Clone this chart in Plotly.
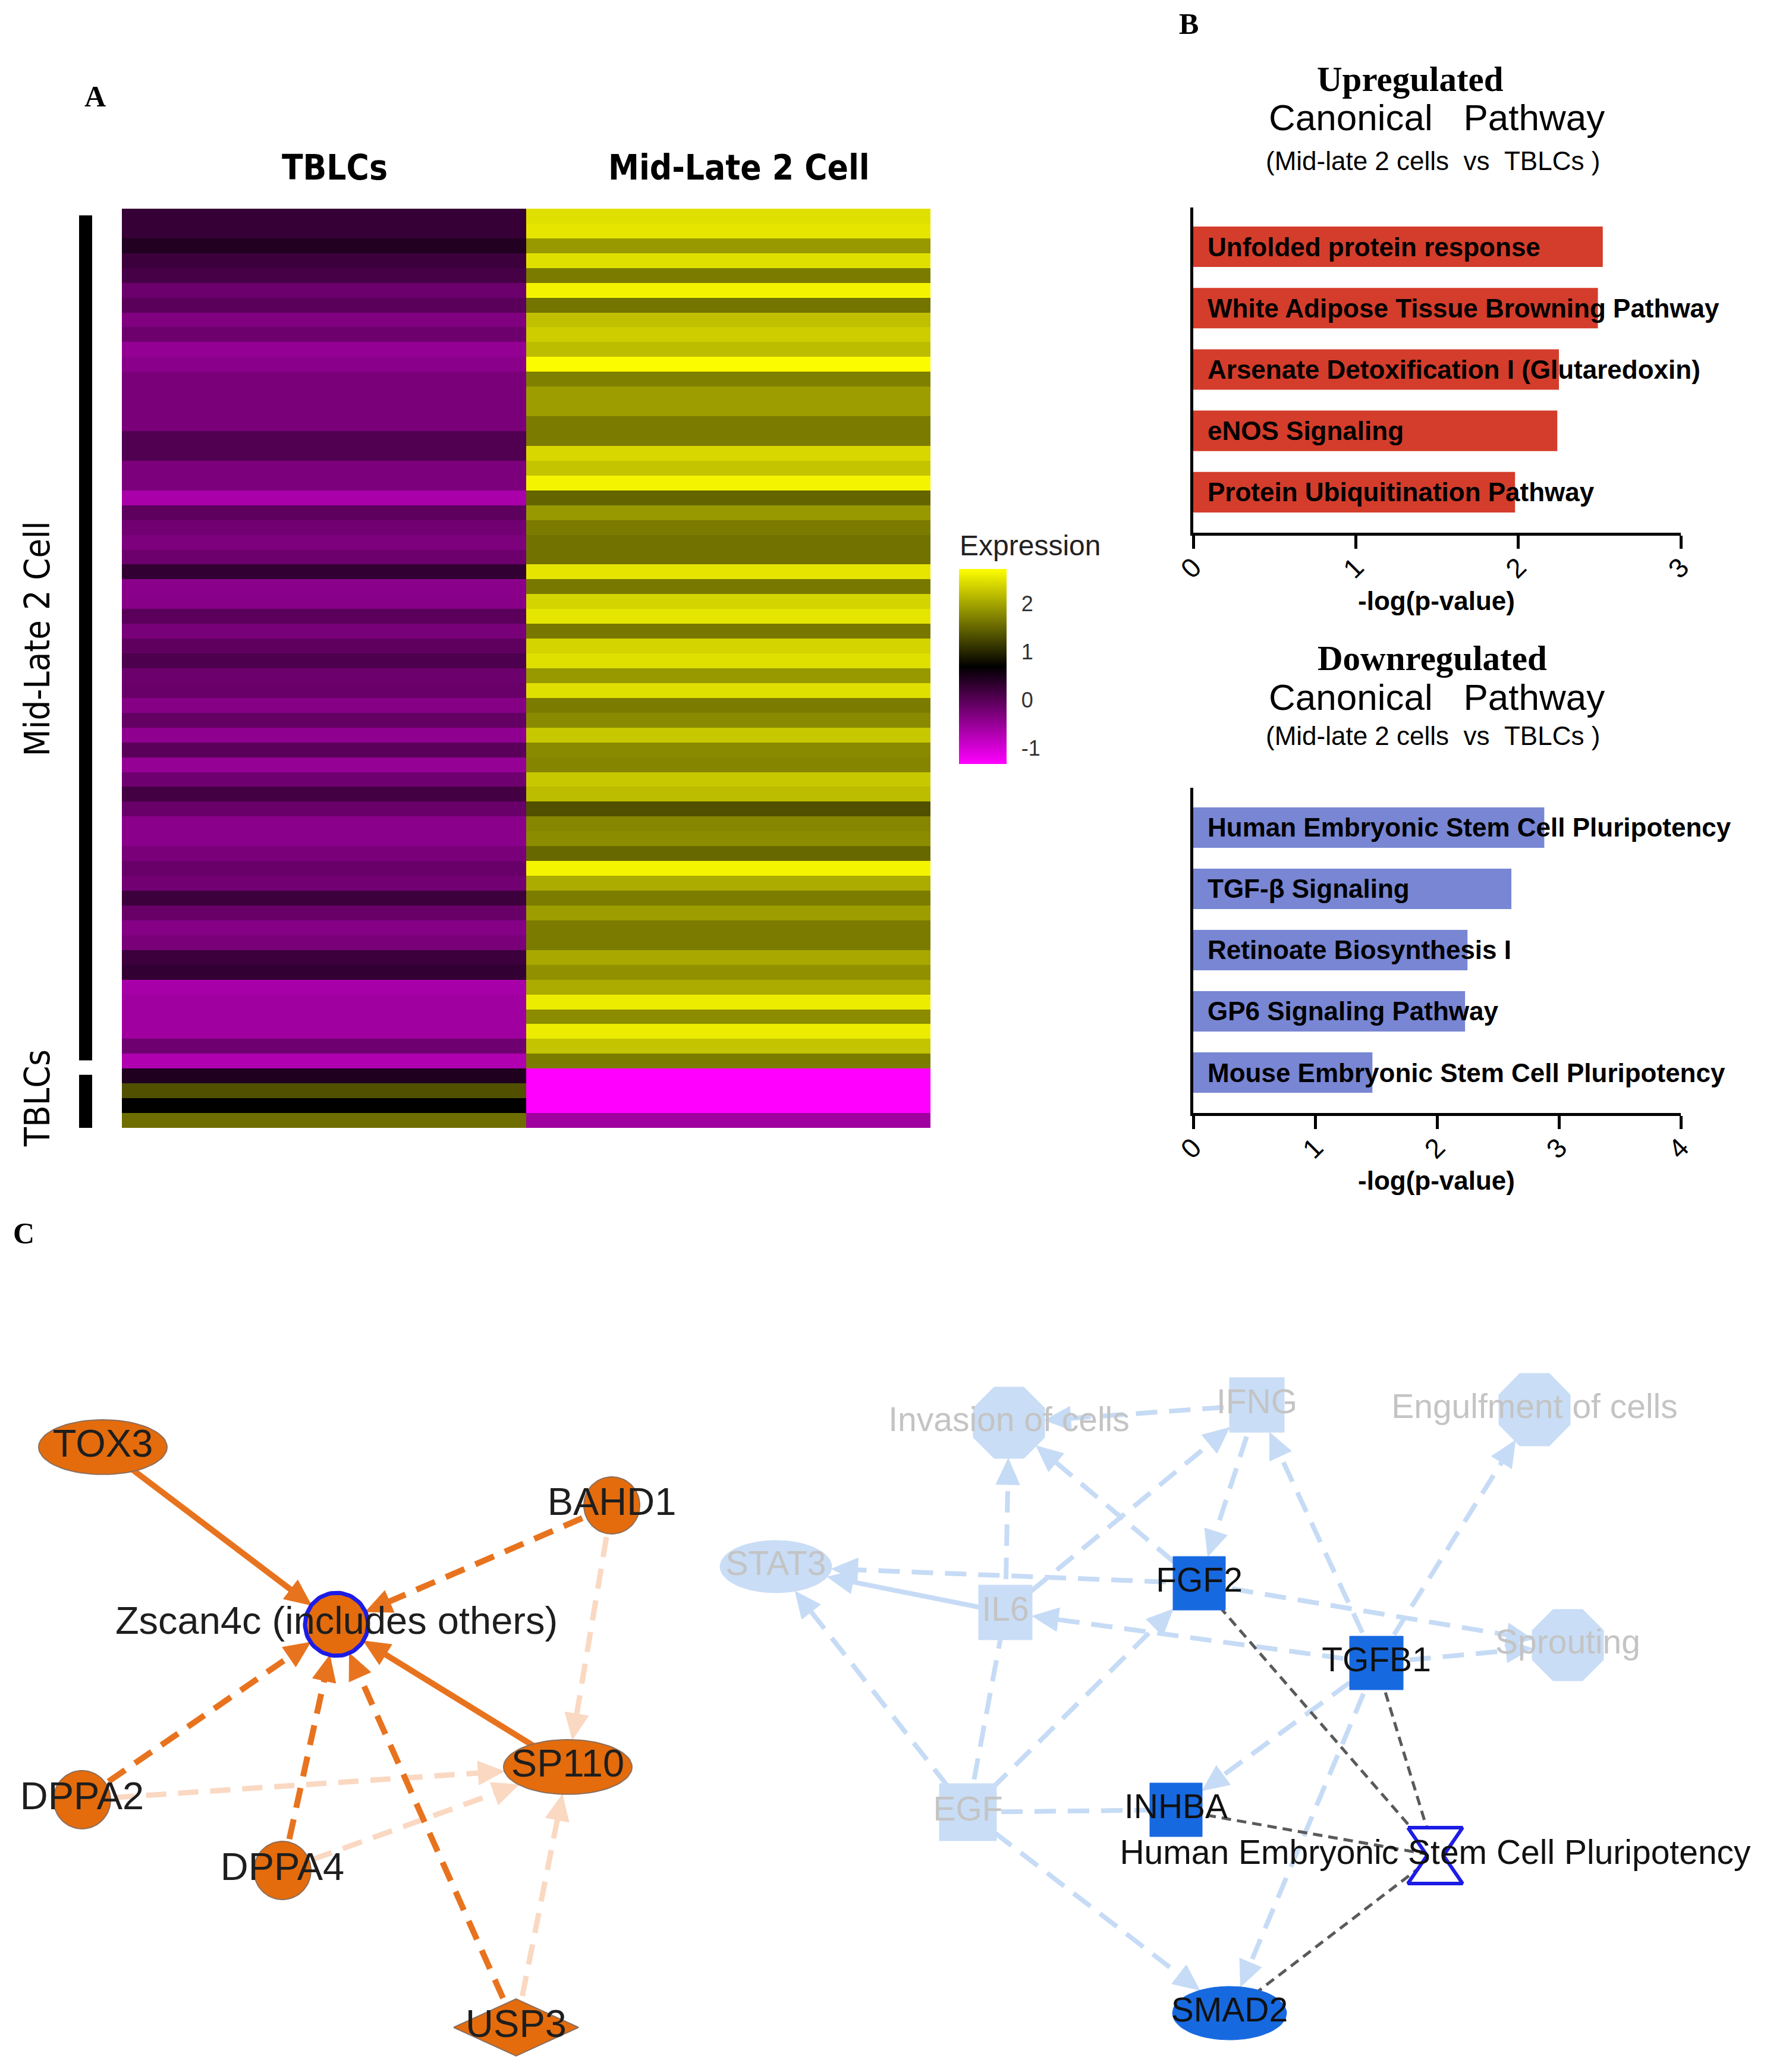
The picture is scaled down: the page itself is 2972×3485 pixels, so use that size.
import numpy as np
import plotly.graph_objects as go

W, H = 2972, 3485
SERIF = "Liberation Serif, Times New Roman, serif"
SANS = "Liberation Sans, Arial, sans-serif"
NARROW = "Liberation Sans Narrow, DejaVu Sans Condensed, Arial Narrow, sans-serif"

# ------------------------------------------------------------------ data
# Panel A : heat map (rows top -> bottom)
heat_columns = ["TBLCs", "Mid-Late 2 Cell"]
tblc_expr = [0.27, 0.27, 0.43, 0.22, 0.14, -0.16, -0.02, -0.32, -0.18, -0.48,
             -0.40, -0.27, -0.27, -0.27, -0.27, 0.05, 0.05, -0.29, -0.29, -0.65,
             -0.05, -0.21, -0.30, -0.18, 0.29, -0.41, -0.38, -0.02, -0.26, -0.06,
             0.08, -0.16, -0.14, -0.37, -0.10, -0.45, -0.02, -0.49, -0.19, 0.16,
             -0.14, -0.41, -0.41, -0.27, -0.14, -0.22, 0.22, -0.13, -0.37, -0.27,
             0.22, 0.29, -0.64, -0.57, -0.57, -0.57, -0.19, -0.70, 0.45, 1.33,
             0.70, 1.57]
midlate_expr = [2.47, 2.51, 1.90, 2.47, 1.67, 2.63, 1.62, 2.22, 2.32, 2.19,
                2.70, 1.71, 1.94, 1.94, 1.67, 1.67, 2.41, 2.25, 2.63, 1.49,
                1.90, 1.67, 1.60, 1.60, 2.51, 1.65, 2.38, 2.51, 1.65, 2.38,
                2.47, 1.90, 2.47, 1.67, 1.79, 2.28, 1.79, 1.75, 2.28, 2.19,
                1.33, 1.76, 1.81, 1.52, 2.63, 2.05, 1.68, 1.94, 1.67, 1.67,
                2.03, 1.84, 2.05, 2.57, 1.81, 2.57, 2.25, 1.67, -1.33, -1.33,
                -1.33, -0.57]
gene_groups = ["Mid-Late 2 Cell", "TBLCs"]
gene_group_sizes = [58, 4]
cbar_ticks = [-1, 0, 1, 2]
cbar_ticktext = ["-1", "0", "1", "2"]

# Panel B : canonical pathways
up_pathways = ["Unfolded protein response",
               "White Adipose Tissue Browning Pathway",
               "Arsenate Detoxification I (Glutaredoxin)",
               "eNOS Signaling",
               "Protein Ubiquitination Pathway"]
up_logp = [2.52, 2.49, 2.25, 2.24, 1.98]
up_ticks = [0, 1, 2, 3]

down_pathways = ["Human Embryonic Stem Cell Pluripotency",
                 "TGF-β Signaling",
                 "Retinoate Biosynthesis I",
                 "GP6 Signaling Pathway",
                 "Mouse Embryonic Stem Cell Pluripotency"]
down_logp = [2.88, 2.61, 2.25, 2.23, 1.47]
down_ticks = [0, 1, 2, 3, 4]

# Panel C : networks (node layout in figure pixel units)
left_names = ["TOX3", "Zscan4c (includes others)", "BAHD1", "SP110", "DPPA2", "DPPA4", "USP3"]
left_x = [173, 566, 1029, 955, 138, 475, 868]
left_y = [2434, 2732, 2532, 2972, 3027, 3146, 3410]
left_w = [216, 106, 94, 216, 96, 96, 210]
left_h = [92, 106, 96, 92, 98, 98, 96]
left_shape = ["ellipse", "ellipse", "ellipse", "ellipse", "ellipse", "ellipse", "diamond"]
left_src = ["TOX3", "BAHD1", "DPPA2", "DPPA4", "USP3", "SP110",
            "BAHD1", "DPPA2", "DPPA4", "USP3"]
left_dst = ["Zscan4c (includes others)"] * 6 + ["SP110"] * 4
left_style = ["orange_solid", "orange_dash", "orange_dash", "orange_dash", "orange_dash", "orange_solid",
              "peach_dash", "peach_dash", "peach_dash", "peach_dash"]

right_names = ["Invasion of cells", "IFNG", "Engulfment of cells", "STAT3", "IL6", "FGF2",
               "Sprouting", "TGFB1", "EGF", "INHBA", "Human Embryonic Stem Cell Pluripotency", "SMAD2"]
right_x = [1697, 2114, 2581, 1305, 1691, 2017, 2637, 2315, 1628, 1978, 2414, 2068]
right_y = [2393, 2363, 2371, 2635, 2712, 2663, 2767, 2797, 3048, 3044, 3121, 3386]
right_w = [120, 92, 120, 188, 90, 88, 120, 90, 96, 88, 92, 192]
right_h = [120, 92, 122, 88, 92, 90, 120, 90, 96, 90, 94, 90]
right_shape = ["octagon", "square", "octagon", "ellipse", "square", "square",
               "octagon", "square", "square", "square", "hourglass", "ellipse"]
right_state = ["faded", "faded", "faded", "faded", "faded", "active",
               "faded", "active", "faded", "active", "pathway", "active"]
HESC = "Human Embryonic Stem Cell Pluripotency"
right_src = ["IFNG", "IL6", "FGF2", "IL6", "IFNG", "TGFB1", "TGFB1", "FGF2", "IL6", "EGF",
             "TGFB1", "FGF2", "TGFB1", "EGF", "EGF", "TGFB1", "EGF", "EGF", "TGFB1",
             "FGF2", "TGFB1", "INHBA", "SMAD2"]
right_dst = ["Invasion of cells", "Invasion of cells", "Invasion of cells", "IFNG", "FGF2", "IFNG",
             "Engulfment of cells", "STAT3", "STAT3", "STAT3", "IL6", "Sprouting", "Sprouting",
             "IL6", "FGF2", "INHBA", "INHBA", "SMAD2", "SMAD2",
             HESC, HESC, HESC, HESC]
right_style = ["blue_dash", "blue_dash", "blue_dash", "blue_dash", "blue_dash", "blue_dash",
               "blue_dash", "blue_dash", "blue_solid", "blue_dash", "blue_dash", "blue_dash", "blue_dash",
               "blue_line", "blue_dash", "blue_dash", "blue_line", "blue_dash", "blue_dash",
               "grey_dash", "grey_dash", "grey_dash", "grey_dash"]

# ------------------------------------------------------------------ helpers
def fx(p):
    return p / W


def fy(p):
    return 1 - p / H


EXPR_MIN, EXPR_MAX = -1.33, 2.72
CB_TOP, CB_BOT = 957, 1285

fig = go.Figure()

# ------------------------------------------------------------------ Panel A
z = np.column_stack([tblc_expr, midlate_expr])
n_rows = len(tblc_expr)
fig.add_trace(go.Heatmap(
    z=z, x=list(range(len(heat_columns))), y=list(range(n_rows)),
    zmin=EXPR_MIN, zmax=EXPR_MAX,
    colorscale=[[0, "#ff00ff"], [0.5, "#000000"], [1, "#ffff00"]],
    xaxis="x", yaxis="y", hoverinfo="skip",
    colorbar=dict(x=fx(1613), xanchor="left", y=fy((CB_TOP + CB_BOT) / 2), yanchor="middle",
                  len=CB_BOT - CB_TOP, lenmode="pixels", thickness=80, thicknessmode="pixels",
                  outlinewidth=0, xpad=0, ypad=0, tickvals=cbar_ticks, ticktext=cbar_ticktext,
                  ticks="outside", ticklen=18, tickcolor="rgba(0,0,0,0)",
                  tickfont=dict(family=SANS, size=36, color="#333333")),
))
# inner colorbar tick marks
for v in cbar_ticks:
    yp = CB_TOP + (EXPR_MAX - v) / (EXPR_MAX - EXPR_MIN) * (CB_BOT - CB_TOP)
    for xa, xb in ((1613, 1627), (1679, 1693)):
        fig.add_shape(type="line", xref="paper", yref="paper", x0=fx(xa), x1=fx(xb),
                      y0=fy(yp), y1=fy(yp), line=dict(color="#d4d4d4", width=3))
fig.add_annotation(xref="paper", yref="paper", x=fx(1612), y=fy(917), text="Expression",
                   showarrow=False, xanchor="left", yanchor="middle",
                   font=dict(family=SANS, size=48, color="#222222"))

for ci, cname in enumerate(heat_columns):
    fig.add_annotation(xref="x", yref="paper", x=ci, y=fy(282), text=f"<b>{cname}</b>",
                       showarrow=False, xanchor="center", yanchor="middle", xshift=18,
                       font=dict(family=NARROW, size=58, color="black"))

start = 0
for gi, (gname, gsize) in enumerate(zip(gene_groups, gene_group_sizes)):
    end = start + gsize - 1
    y0 = start - 0.5 + (0.45 if gi == 0 else 0.42)
    y1 = end + 0.5 - (0.55 if gi < len(gene_groups) - 1 else 0.0)
    fig.add_shape(type="rect", xref="paper", yref="y", x0=fx(133), x1=fx(155), y0=y0, y1=y1,
                  fillcolor="black", line=dict(width=0))
    fig.add_annotation(xref="paper", yref="y", x=fx(62), y=(start + end) / 2, text=gname,
                       textangle=-90, showarrow=False, xanchor="center", yanchor="middle",
                       font=dict(family=NARROW, size=59, color="black"))
    start += gsize

# ------------------------------------------------------------------ Panel B
BAR_W = 0.66


def bar_panel(labels, values, color, xa, ya, title_word, x_word, y_word, y_canon, y_sub, y_xt):
    fig.add_trace(go.Bar(x=values, y=list(range(len(values))), orientation="h", width=BAR_W,
                         marker=dict(color=color, line=dict(width=0)), xaxis=xa, yaxis=ya,
                         hoverinfo="skip"))
    for i, lab in enumerate(labels):
        fig.add_annotation(xref=xa, yref=ya, x=0, y=i, text=f"<b>{lab}</b>", showarrow=False,
                           xanchor="left", yanchor="middle", xshift=22,
                           font=dict(family=SANS, size=44, color="black"))
    fig.add_annotation(xref="paper", yref="paper", x=fx(x_word), y=fy(y_word), text=f"<b>{title_word}</b>",
                       showarrow=False, xanchor="center", yanchor="middle",
                       font=dict(family=SERIF, size=59, color="black"))
    fig.add_annotation(xref="paper", yref="paper", x=fx(2416), y=fy(y_canon),
                       text="Canonical\u00a0\u00a0 Pathway", showarrow=False, xanchor="center",
                       yanchor="middle", font=dict(family=SANS, size=62, color="black"))
    fig.add_annotation(xref="paper", yref="paper", x=fx(2410), y=fy(y_sub),
                       text="(Mid-late 2 cells\u00a0\u00a0vs\u00a0\u00a0TBLCs )", showarrow=False,
                       xanchor="center", yanchor="middle",
                       font=dict(family=SANS, size=44, color="black"))
    fig.add_annotation(xref="paper", yref="paper", x=fx(2416), y=fy(y_xt),
                       text="<b>-log(p-value)</b>", showarrow=False, xanchor="center",
                       yanchor="middle", font=dict(family=SANS, size=44, color="black"))


bar_panel(up_pathways, up_logp, "#d43d2b", "x2", "y2", "Upregulated", 2372, 133, 198, 270, 1011)
bar_panel(down_pathways, down_logp, "#7886d3", "x3", "y3", "Downregulated", 2409, 1107, 1172, 1237, 1985)

# ------------------------------------------------------------------ Panel C
STYLES = {
    "orange_solid": dict(color="#e8731e", width=10, dash="solid", head=True),
    "orange_dash": dict(color="#e8731e", width=10, dash="34px,20px", head=True),
    "peach_dash": dict(color="#fad8c2", width=9, dash="34px,20px", head=True),
    "blue_dash": dict(color="#c6dbf5", width=8, dash="36px,20px", head=True),
    "blue_solid": dict(color="#c6dbf5", width=8, dash="solid", head=True),
    "blue_line": dict(color="#c6dbf5", width=8, dash="36px,20px", head=False),
    "grey_dash": dict(color="#5a5a5a", width=5, dash="16px,10px", head=False),
}
DRAW_ORDER = ["peach_dash", "blue_dash", "blue_solid", "blue_line", "grey_dash", "orange_dash", "orange_solid"]
HEAD_L, HEAD_HB = 44, 20


def node_polygon(cx, cy, w, h, kind):
    a, b = w / 2, h / 2
    if kind == "ellipse":
        t = np.linspace(0, 2 * np.pi, 73)
        return cx + a * np.cos(t), cy + b * np.sin(t)
    if kind == "square":
        return (np.array([cx - a, cx + a, cx + a, cx - a, cx - a]),
                np.array([cy - b, cy - b, cy + b, cy + b, cy - b]))
    if kind == "octagon":
        t = np.deg2rad(22.5 + 45 * np.arange(9))
        c = np.cos(np.deg2rad(22.5))
        return cx + a / c * np.cos(t), cy + b / c * np.sin(t)
    if kind == "diamond":
        return (np.array([cx - a, cx, cx + a, cx, cx - a]),
                np.array([cy, cy - b, cy, cy + b, cy]))
    # hourglass
    return (np.array([cx - a, cx + a, cx + a * 0.3, cx + a, cx - a, cx - a * 0.3, cx - a]),
            np.array([cy - b, cy - b, cy, cy + b, cy + b, cy, cy - b]))


def boundary(ux, uy, w, h, kind):
    a, b = w / 2, h / 2
    if kind in ("ellipse", "octagon"):
        return 1 / np.sqrt((ux / a) ** 2 + (uy / b) ** 2)
    if kind in ("square", "hourglass"):
        ra = a / abs(ux) if abs(ux) > 1e-9 else 1e9
        rb = b / abs(uy) if abs(uy) > 1e-9 else 1e9
        return min(ra, rb)
    return 1 / (abs(ux) / a + abs(uy) / b)


def network_edges(names, xs, ys, ws, hs, shapes, srcs, dsts, styles):
    idx = {n: i for i, n in enumerate(names)}
    segs = {k: ([], []) for k in STYLES}
    heads = {}
    for s, d, st in zip(srcs, dsts, styles):
        i, j = idx[s], idx[d]
        sx, sy, tx, ty = xs[i], ys[i], xs[j], ys[j]
        dx, dy = tx - sx, ty - sy
        ln = np.hypot(dx, dy)
        ux, uy = dx / ln, dy / ln
        sty = STYLES[st]
        if sty["head"]:
            r = boundary(ux, uy, ws[j], hs[j], shapes[j])
            tipx, tipy = tx - ux * r, ty - uy * r
            ex, ey = tipx - ux * HEAD_L * 0.6, tipy - uy * HEAD_L * 0.6
            bx, by = tipx - ux * HEAD_L, tipy - uy * HEAD_L
            nx, ny = -uy, ux
            hx, hy = heads.setdefault(sty["color"], ([], []))
            hx += [tipx, bx + nx * HEAD_HB, bx - nx * HEAD_HB, tipx, None]
            hy += [tipy, by + ny * HEAD_HB, by - ny * HEAD_HB, tipy, None]
        else:
            ex, ey = tx, ty
        segs[st][0].extend([sx, ex, None])
        segs[st][1].extend([sy, ey, None])
    return segs, heads


all_segs = {k: ([], []) for k in STYLES}
all_heads = {}
for args in ((left_names, left_x, left_y, left_w, left_h, left_shape, left_src, left_dst, left_style),
             (right_names, right_x, right_y, right_w, right_h, right_shape, right_src, right_dst, right_style)):
    sg, hd = network_edges(*args)
    for k, (a, b) in sg.items():
        all_segs[k][0].extend(a)
        all_segs[k][1].extend(b)
    for c, (a, b) in hd.items():
        hx, hy = all_heads.setdefault(c, ([], []))
        hx.extend(a)
        hy.extend(b)

for k in DRAW_ORDER:
    xs_, ys_ = all_segs[k]
    if not xs_:
        continue
    st = STYLES[k]
    fig.add_trace(go.Scatter(x=xs_, y=ys_, mode="lines", xaxis="x4", yaxis="y4", hoverinfo="skip",
                             line=dict(color=st["color"], width=st["width"], dash=st["dash"]),
                             cliponaxis=False))
for c in ["#fad8c2", "#c6dbf5", "#e8731e"]:
    if c in all_heads:
        hx, hy = all_heads[c]
        fig.add_trace(go.Scatter(x=hx, y=hy, mode="lines", fill="toself", fillcolor=c,
                                 line=dict(color=c, width=1), xaxis="x4", yaxis="y4",
                                 hoverinfo="skip", cliponaxis=False))

# nodes
for n, cx, cy, w, h, kind in zip(left_names, left_x, left_y, left_w, left_h, left_shape):
    px_, py_ = node_polygon(cx, cy, w, h, kind)
    if n.startswith("Zscan4c"):
        line = dict(color="#1c1ce6", width=7)
    else:
        line = dict(color="#8c6e5c", width=2)
    fig.add_trace(go.Scatter(x=px_, y=py_, mode="lines", fill="toself", fillcolor="#e46c0c",
                             line=line, xaxis="x4", yaxis="y4", hoverinfo="skip"))
for n, cx, cy, w, h, kind, state in zip(right_names, right_x, right_y, right_w, right_h,
                                        right_shape, right_state):
    px_, py_ = node_polygon(cx, cy, w, h, kind)
    if state == "faded":
        fill, line = "#c9ddf6", dict(color="#c9ddf6", width=1)
    elif state == "active":
        fill, line = "#1769e0", dict(color="#1769e0", width=1)
    else:
        fill, line = "white", dict(color="#1c1ce6", width=6)
    fig.add_trace(go.Scatter(x=px_, y=py_, mode="lines", fill="toself", fillcolor=fill,
                             line=line, xaxis="x4", yaxis="y4", hoverinfo="skip"))

# node labels
fig.add_trace(go.Scatter(x=left_x, y=left_y, mode="text", text=left_names, xaxis="x4", yaxis="y4",
                         textfont=dict(family=SANS, size=65, color="#1e1e1e"), hoverinfo="skip",
                         cliponaxis=False))
label_col = {"faded": "#c4c4c4", "active": "#111111", "pathway": "#111111"}
fig.add_trace(go.Scatter(x=right_x, y=right_y, mode="text", text=right_names, xaxis="x4", yaxis="y4",
                         textfont=dict(family=SANS, size=57, color=[label_col[s] for s in right_state]),
                         hoverinfo="skip", cliponaxis=False))

# panel letters
for letter, xp, yp in (("A", 160, 162), ("B", 2000, 40), ("C", 40, 2074)):
    fig.add_annotation(xref="paper", yref="paper", x=fx(xp), y=fy(yp), text=f"<b>{letter}</b>",
                       showarrow=False, xanchor="center", yanchor="middle",
                       font=dict(family=SERIF, size=50, color="black"))

# ------------------------------------------------------------------ layout
hidden = dict(visible=False, showgrid=False, zeroline=False, fixedrange=True)
bar_x = dict(showline=True, linecolor="black", linewidth=5, ticks="outside", ticklen=22,
             tickwidth=5, tickcolor="black", showgrid=False, zeroline=False, tickangle=-45,
             ticklabelstandoff=-14,
             tickfont=dict(family=SANS, size=46, color="black"), fixedrange=True)
bar_y = dict(showline=True, linecolor="black", linewidth=5, showticklabels=False, ticks="",
             showgrid=False, zeroline=False, fixedrange=True)

fig.update_layout(
    width=W, height=H, autosize=False,
    margin=dict(l=0, r=0, t=0, b=0, pad=0, autoexpand=False),
    paper_bgcolor="white", plot_bgcolor="white", showlegend=False,
    xaxis=dict(domain=[fx(205), fx(1565)], range=[-0.5, 1.5], anchor="y", **hidden),
    yaxis=dict(domain=[fy(1897), fy(351)], range=[n_rows - 0.5, -0.5], anchor="x", **hidden),
    xaxis2=dict(domain=[fx(2007), fx(2827)], range=[0, 3], tickvals=up_ticks, anchor="y2", **bar_x),
    yaxis2=dict(domain=[fy(896), fy(349)], range=[4.66, -0.64], anchor="x2", **bar_y),
    xaxis3=dict(domain=[fx(2007), fx(2827)], range=[0, 4], tickvals=down_ticks, anchor="y3", **bar_x),
    yaxis3=dict(domain=[fy(1872), fy(1325)], range=[4.66, -0.65], anchor="x3", **bar_y),
    xaxis4=dict(domain=[0, 1], range=[0, W], anchor="y4", **hidden),
    yaxis4=dict(domain=[0, fy(2100)], range=[H, 2100], anchor="x4", **hidden),
)

fig.write_html("out.html", config={"displayModeBar": False},
               post_script="document.body.style.margin='0px';")
